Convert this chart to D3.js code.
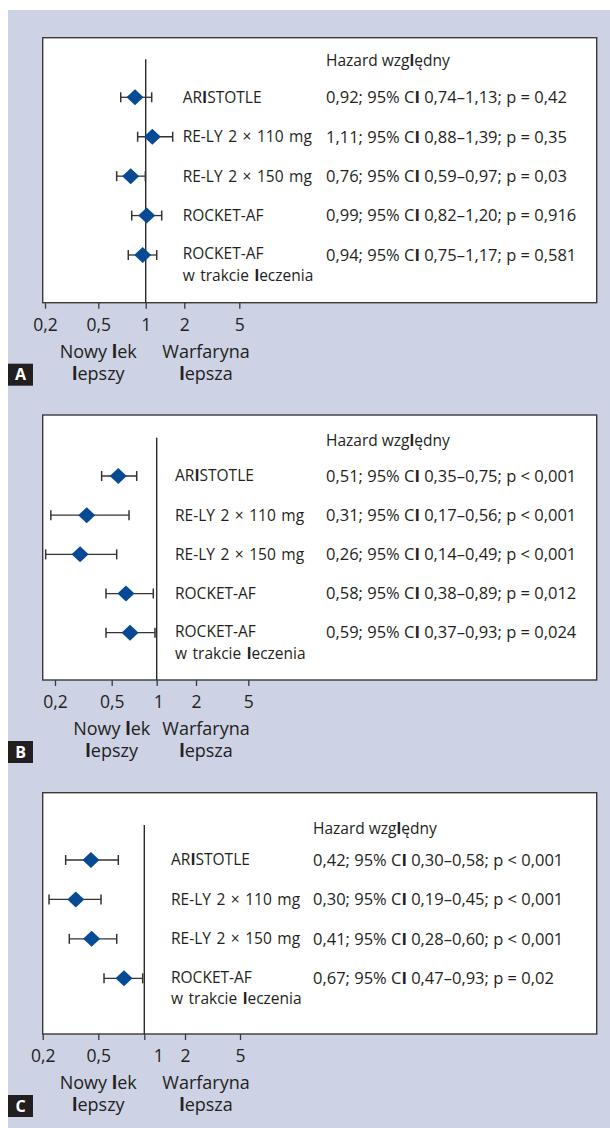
<!DOCTYPE html>
<html>
<head>
<meta charset="utf-8">
<script src="https://cdn.jsdelivr.net/npm/d3@7"></script>
<style>
  body { margin: 0; background: #fff; }
  svg { display: block; font-family: "Open Sans", "Noto Sans", sans-serif; }
  .tick text { font-size: 17.5px; fill: #231f20; }
</style>
</head>
<body>
<svg></svg>
<script>
// wspolne dane osi
const tickValues = [0.2, 0.5, 1, 2, 5];
const tickLabels = ["0,2", "0,5", "1", "2", "5"];

// panel A
const studiesA = ["ARISTOTLE", "RE-LY 2 × 110 mg", "RE-LY 2 × 150 mg", "ROCKET-AF", "ROCKET-AF|w trakcie leczenia"];
const hrA = [0.855, 1.126, 0.803, 1.018, 0.957];
const loA = [0.694, 0.889, 0.654, 0.815, 0.775];
const hiA = [1.114, 1.624, 0.995, 1.333, 1.219];
const statsA = [
    "0,92; 95% CI 0,74–1,13; p = 0,42",
    "1,11; 95% CI 0,88–1,39; p = 0,35",
    "0,76; 95% CI 0,59–0,97; p = 0,03",
    "0,99; 95% CI 0,82–1,20; p = 0,916",
    "0,94; 95% CI 0,75–1,17; p = 0,581"
];

// panel B
const studiesB = ["ARISTOTLE", "RE-LY 2 × 110 mg", "RE-LY 2 × 150 mg", "ROCKET-AF", "ROCKET-AF|w trakcie leczenia"];
const hrB = [0.553, 0.334, 0.300, 0.623, 0.663];
const loB = [0.425, 0.187, 0.172, 0.456, 0.456];
const hiB = [0.735, 0.653, 0.540, 0.949, 0.974];
const statsB = [
    "0,51; 95% CI 0,35–0,75; p < 0,001",
    "0,31; 95% CI 0,17–0,56; p < 0,001",
    "0,26; 95% CI 0,14–0,49; p < 0,001",
    "0,58; 95% CI 0,38–0,89; p = 0,012",
    "0,59; 95% CI 0,37–0,93; p = 0,024"
];

// panel C
const studiesC = ["ARISTOTLE", "RE-LY 2 × 110 mg", "RE-LY 2 × 150 mg", "ROCKET-AF|w trakcie leczenia"];
const hrC = [0.443, 0.345, 0.448, 0.736];
const loC = [0.292, 0.222, 0.310, 0.545];
const hiC = [0.676, 0.521, 0.660, 0.976];
const statsC = [
    "0,42; 95% CI 0,30–0,58; p < 0,001",
    "0,30; 95% CI 0,19–0,45; p < 0,001",
    "0,41; 95% CI 0,28–0,60; p < 0,001",
    "0,67; 95% CI 0,47–0,93; p = 0,02"
];

const W = 610, H = 1128;
const svg = d3.select("svg").attr("width", W).attr("height", H);

svg.append("rect").attr("width", W).attr("height", H).attr("fill", "#fff");
svg.append("rect").attr("x", 8).attr("y", 10).attr("width", W - 8).attr("height", H - 10).attr("fill", "#cdd2e5");

// w oryginale "l" i "I" sa pogrubione
function richText(sel, str) {
    str.split(/([lI])/).filter(s => s.length).forEach(part => {
        sel.append("tspan")
            .attr("font-weight", (part === "l" || part === "I") ? 700 : null)
            .text(part);
    });
}

// kilka linii w jednym <text>
function multiText(sel, lines, x0, lineH) {
    lines.forEach((ln, k) => {
        const line = sel.append("tspan").attr("x", x0).attr("dy", k === 0 ? "0.35em" : lineH);
        richText(line, ln);
    });
}

function drawPanel(p) {
    const g = svg.append("g");

    // skala log z recznie narysowanej osi (odstepy nierowne)
    const x = d3.scaleLog().domain(tickValues).range(p.tickPx);
    const y = d3.scalePoint().domain(d3.range(p.studies.length)).range([p.rowFirst, p.rowLast]);

    g.append("rect")
        .attr("x", p.left).attr("y", p.top)
        .attr("width", p.right - p.left).attr("height", p.bottom - p.top)
        .attr("fill", "#fff").attr("stroke", "#3a3a3a").attr("stroke-width", 1.4);

    // os x
    const axis = g.append("g")
        .attr("transform", `translate(0, ${p.bottom})`)
        .call(d3.axisBottom(x).tickValues(tickValues).tickFormat((d, i) => tickLabels[i]).tickSize(6).tickPadding(10));
    axis.select(".domain").remove();
    axis.selectAll(".tick line").attr("stroke", "#3a3a3a").attr("stroke-width", 1.3);
    axis.selectAll(".tick text").attr("font-family", null)
        .attr("dx", (d) => d === 1 ? p.oneShift : 0);
    axis.attr("font-family", null).attr("font-size", null);

    // linia odniesienia HR = 1
    g.append("line")
        .attr("x1", x(1)).attr("x2", x(1))
        .attr("y1", p.refTop).attr("y2", p.bottom)
        .attr("stroke", "#2a2a2a").attr("stroke-width", 1.4);

    const rows = g.selectAll(".row")
        .data(p.studies.map((s, i) => ({ s, i, hr: p.hr[i], lo: p.lo[i], hi: p.hi[i], stat: p.stats[i] })))
        .enter().append("g").attr("class", "row");

    rows.append("line")
        .attr("x1", d => x(d.lo)).attr("x2", d => x(d.hi))
        .attr("y1", d => y(d.i)).attr("y2", d => y(d.i))
        .attr("stroke", "#333").attr("stroke-width", 1.3);
    rows.append("line")
        .attr("x1", d => x(d.lo)).attr("x2", d => x(d.lo))
        .attr("y1", d => y(d.i) - 5).attr("y2", d => y(d.i) + 5)
        .attr("stroke", "#333").attr("stroke-width", 1.5);
    rows.append("line")
        .attr("x1", d => x(d.hi)).attr("x2", d => x(d.hi))
        .attr("y1", d => y(d.i) - 5).attr("y2", d => y(d.i) + 5)
        .attr("stroke", "#333").attr("stroke-width", 1.5);
    rows.append("path")
        .attr("d", "M0,-8L8.5,0L0,8L-8.5,0Z")
        .attr("transform", d => `translate(${x(d.hr)}, ${y(d.i)})`)
        .attr("fill", "#074a94");

    // nazwy badan i wyniki
    rows.each(function (d) {
        const lines = d.s.split("|");
        const t = d3.select(this).append("text")
            .attr("y", y(d.i) - (lines.length > 1 ? 1 : 0))
            .attr("font-size", 15.5).attr("word-spacing", 1.5).attr("fill", "#231f20");
        multiText(t, lines, p.labelX, 21.4);

        const st = d3.select(this).append("text")
            .attr("x", p.statX).attr("y", y(d.i))
            .attr("dy", "0.35em")
            .attr("font-size", 16.5).attr("fill", "#231f20");
        richText(st, d.stat);
    });

    const head = g.append("text")
        .attr("x", p.statX).attr("y", p.headY).attr("dy", "0.35em")
        .attr("font-size", 15.5).attr("fill", "#231f20");
    richText(head, "Hazard względny");

    // opisy pod osia
    [["Nowy lek", "lepszy", x(0.5)], ["Warfaryna", "lepsza", p.warfX]].forEach(([a, b, cx]) => {
        const t = g.append("text").attr("y", p.bottom + 49)
            .attr("text-anchor", "middle").attr("font-size", 18).attr("fill", "#231f20");
        multiText(t, [a, b], cx, 22);
    });

    // litera panelu
    g.append("rect").attr("x", 8).attr("y", p.bottom + 61).attr("width", 25).attr("height", 22).attr("fill", "#231f20");
    g.append("text").attr("x", 20.5).attr("y", p.bottom + 72).attr("dy", "0.36em")
        .attr("text-anchor", "middle").attr("font-size", 16).attr("font-weight", 700)
        .attr("fill", "#fff").text(p.id);
}

drawPanel({
    id: "A", top: 37.7, bottom: 302.7, left: 42.7, right: 596.7,
    tickPx: [45, 98.3, 145.7, 184.3, 239.3], refTop: 59.3,
    rowFirst: 97.3, rowLast: 255, labelX: 182.7, statX: 326, headY: 60.7, warfX: 206, oneShift: 0,
    studies: studiesA, hr: hrA, lo: loA, hi: hiA, stats: statsA
});
drawPanel({
    id: "B", top: 415, bottom: 680, left: 42.7, right: 596.7,
    tickPx: [55, 111.7, 156.7, 196, 248.3], refTop: 437.7,
    rowFirst: 476, rowLast: 632.7, labelX: 175, statX: 326, headY: 440.7, warfX: 206, oneShift: 1.6,
    studies: studiesB, hr: hrB, lo: loB, hi: hiB, stats: statsB
});
drawPanel({
    id: "C", top: 792.7, bottom: 1034, left: 42.7, right: 596.7,
    tickPx: [42.7, 98.3, 144.3, 185, 240], refTop: 825,
    rowFirst: 860, rowLast: 978.3, labelX: 171, statX: 313, headY: 828.3, warfX: 206, oneShift: 14,
    studies: studiesC, hr: hrC, lo: loC, hi: hiC, stats: statsC
});
</script>
</body>
</html>
